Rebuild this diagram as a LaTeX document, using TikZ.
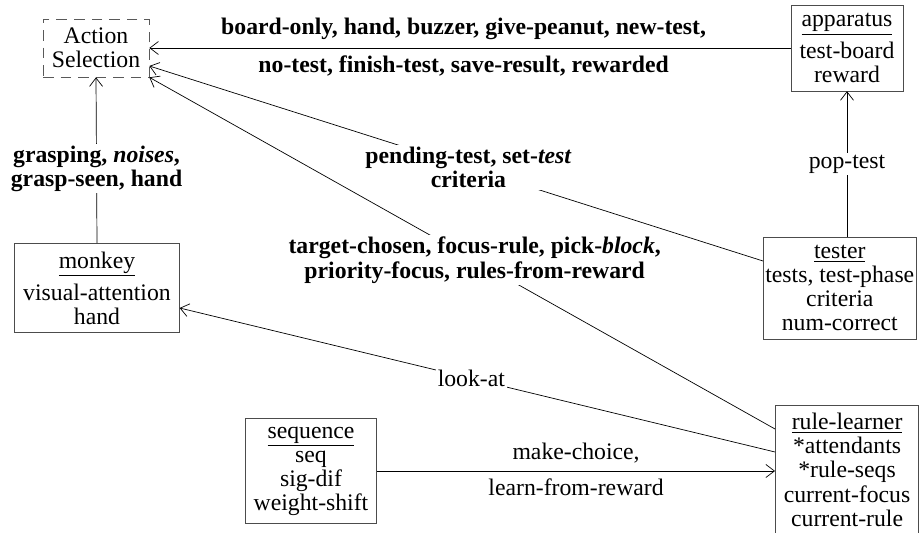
\documentclass[tikz,border=0pt]{standalone}
\usepackage{fontspec}
\setmainfont{Liberation Serif}
\usetikzlibrary{arrows.meta}

\begin{document}
\begin{tikzpicture}[
  font=\fontsize{13.5}{13.7}\selectfont,
  box/.style={draw=black!70,align=center,inner xsep=0.17cm,inner ysep=0.16cm},
  lbl/.style={fill=white,align=center,inner sep=1pt},
  >={Straight Barb[length=0.17cm,width=0.26cm]}]
\useasboundingbox (0,0) rectangle (18.46,-10.66);
\node[draw=black!65,dash pattern=on 6pt off 4pt,align=center,minimum width=2.12cm,minimum height=1.16cm,inner sep=0pt](as) at (1.92,-0.96) {Action\\Selection};
\node[box](app) at (16.94,-0.96) {\underline{apparatus}\\[3pt]test-board\\reward};
\node[box](mon) at (1.94,-5.76) {\underline{monkey}\\[3pt]visual-attention\\hand};
\node[box,anchor=west,inner xsep=0.04cm](tst) at (15.26,-5.76) {\underline{tester}\\tests, test-phase\\criteria\\num-correct};
\node[box,anchor=north west](rl) at (15.5,-8.1) {\underline{rule-learner}\\*attendants\\*rule-seqs\\current-focus\\current-rule};
\node[box](seq) at (6.22,-9.42) {\underline{sequence}\\seq\\sig-dif\\weight-shift};

\draw[->] (app.west |- as.east) -- (as.east)
  node[pos=0.51,above=1pt]{\bfseries board-only, hand, buzzer, give-peanut, new-test,}
  node[pos=0.51,below=1pt]{\bfseries no-test, finish-test, save-result, rewarded};
\draw[->] (mon.north) -- (as.south)
  node[lbl,pos=0.45]{\bfseries grasping, \textit{noises},\\\bfseries grasp-seen, hand};
\draw[->] ([yshift=0.54cm]tst.west) -- ([yshift=-0.36cm]as.east)
  node[lbl,pos=0.48]{\bfseries pending-test, set-\textit{test}\\\bfseries criteria};
\draw[->] ([yshift=-0.48cm]rl.north west) -- (as.south east)
  node[lbl,pos=0.48]{\bfseries target-chosen, focus-rule, pick-\textit{block},\\\bfseries priority-focus, rules-from-reward};
\draw[->] ([yshift=-0.94cm]rl.north west) -- ([yshift=-0.4cm]mon.east)
  node[lbl,pos=0.51]{look-at};
\draw[->] (seq.east) -- (seq.east -| rl.west)
  node[midway,above=1pt]{make-choice,}
  node[midway,below=1pt]{learn-from-reward};
\draw[->] (tst.north -| app.south) -- (app.south)
  node[lbl,midway]{pop-test};
\end{tikzpicture}
\end{document}
